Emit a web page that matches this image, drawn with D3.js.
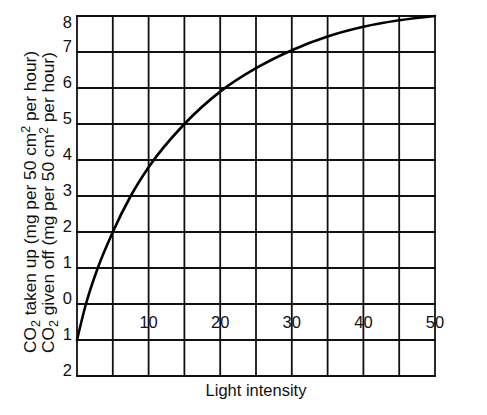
<!DOCTYPE html>
<html>
<head>
<meta charset="utf-8">
<script src="https://cdn.jsdelivr.net/npm/d3@7"></script>
<style>
  html, body { margin: 0; padding: 0; background: #fff; }
  svg { display: block; }
  text { font-family: "Liberation Sans", Arial, Helvetica, sans-serif; fill: #111; }
</style>
</head>
<body>
<svg id="chart" width="487" height="415"></svg>
<script>
// ---- data ----
const lightIntensity = [0, 1.25, 2.9, 5, 7.5, 10, 15, 20, 25, 30, 35, 40, 45, 50];
const co2Exchange    = [-1, 0, 1, 2, 3, 3.8, 5, 5.9, 6.55, 7.05, 7.43, 7.7, 7.88, 8];
const xGridValues = [0, 5, 10, 15, 20, 25, 30, 35, 40, 45, 50];
const xTickLabels = [10, 20, 30, 40, 50];
const yTickValues = [8, 7, 6, 5, 4, 3, 2, 1, 0, -1, -2];
const yTitleLines = [
  ["CO", "2", " taken up (mg per 50 cm", "2", " per hour)"],
  ["CO", "2", " given off (mg per 50 cm", "2", " per hour)"]
];
const xTitle = "Light intensity";

// ---- drawing ----
const svg = d3.select("#chart");
const x = d3.scaleLinear().domain([0, 50]).range([77, 435]);
const y = d3.scaleLinear().domain([-2, 8]).range([376, 16]);
const ink = "#111";

// grid
svg.append("g").selectAll("line").data(xGridValues).join("line")
  .attr("x1", d => x(d)).attr("x2", d => x(d))
  .attr("y1", y(8)).attr("y2", y(-2))
  .attr("stroke", ink).attr("stroke-width", 1.8);
svg.append("g").selectAll("line").data(yTickValues).join("line")
  .attr("x1", x(0) - 0.9).attr("x2", x(50) + 0.9)
  .attr("y1", d => y(d)).attr("y2", d => y(d))
  .attr("stroke", ink).attr("stroke-width", 1.8);

// y tick labels (magnitude only, as in the reference)
svg.append("g").selectAll("text").data(yTickValues).join("text")
  .attr("x", 72)
  .attr("y", d => d === 8 ? y(d) + 12 : y(d))
  .attr("text-anchor", "end")
  .attr("font-size", 16.5)
  .text(d => Math.abs(d));

// x tick labels, sitting inside the grid between 0 and -1
svg.append("g").selectAll("text").data(xTickLabels).join("text")
  .attr("x", d => x(d))
  .attr("y", y(-0.5) + 5.5)
  .attr("text-anchor", "middle")
  .attr("font-size", 16.5)
  .text(d => d);

// curve
const pts = lightIntensity.map((v, i) => [v, co2Exchange[i]]);
svg.append("path")
  .datum(pts)
  .attr("fill", "none")
  .attr("stroke", "#000")
  .attr("stroke-width", 2.6)
  .attr("stroke-linecap", "round")
  .attr("d", d3.line().x(d => x(d[0])).y(d => y(d[1])).curve(d3.curveMonotoneX));

// y titles (two rotated lines)
const titleX = [35.5, 53.5];
yTitleLines.forEach((parts, i) => {
  const t = svg.append("text")
    .attr("transform", `translate(${titleX[i]},353) rotate(-90)`)
    .attr("font-size", 17.3)
    .attr("text-anchor", "start");
  parts.forEach((p, j) => {
    const ts = t.append("tspan").text(p);
    if (j === 1) ts.attr("font-size", 12.5).attr("baseline-shift", "-4");
    if (j === 3) ts.attr("font-size", 12.5).attr("baseline-shift", "6");
  });
});

// x title
svg.append("text")
  .attr("x", (x(0) + x(50)) / 2)
  .attr("y", 396)
  .attr("text-anchor", "middle")
  .attr("font-size", 16.5)
  .text(xTitle);
</script>
</body>
</html>
